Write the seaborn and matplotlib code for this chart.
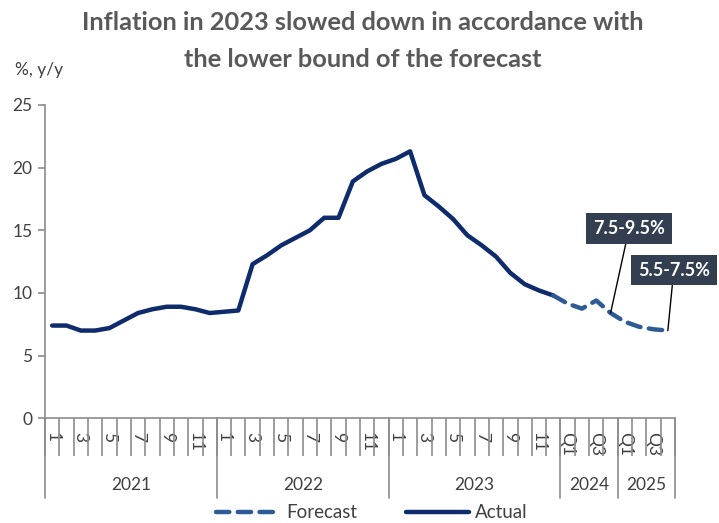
import pandas as pd
import seaborn as sns
import matplotlib.pyplot as plt
from matplotlib.lines import Line2D
from matplotlib.transforms import blended_transform_factory

# data
years = ["2021", "2022", "2023", "2024", "2025"]
periods_per_year = [
    [str(m) for m in range(1, 13)],
    [str(m) for m in range(1, 13)],
    [str(m) for m in range(1, 13)],
    ["Q1", "Q2", "Q3", "Q4"],
    ["Q1", "Q2", "Q3", "Q4"],
]
actual = [
    7.4, 7.4, 7.0, 7.0, 7.2, 7.8, 8.4, 8.7, 8.9, 8.9, 8.7, 8.4,
    8.5, 8.6, 12.3, 13.0, 13.8, 14.4, 15.0, 16.0, 16.0, 18.9, 19.7, 20.3,
    20.7, 21.3, 17.8, 16.9, 15.9, 14.6, 13.8, 12.9, 11.6, 10.7, 10.2, 9.8,
]
# forecast starts at the last actual point (Dec 2023)
forecast = [9.8, 9.15, 8.75, 9.4, 8.4, 7.7, 7.3, 7.1, 7.0]
ranges = ["7.5-9.5%", "5.5-7.5%"]
range_idx = [39, 43]  # Q4 2024, Q4 2025

labels = [p for grp in periods_per_year for p in grp]
n = len(labels)
start_fc = len(actual) - 1

df = pd.concat([
    pd.DataFrame({"pos": range(len(actual)), "value": actual, "series": "Actual"}),
    pd.DataFrame({"pos": range(start_fc, start_fc + len(forecast)), "value": forecast,
                  "series": "Forecast"}),
])

sns.set_style("white")
plt.rcParams["font.family"] = ["Lato", "DejaVu Sans"]
gray = "#595959"
axis_gray = "#8c8c8c"
navy = "#0e2b6b"
blue = "#2e5a96"

fig = plt.figure(figsize=(7.19, 5.23), dpi=100)
ax = fig.add_axes([0.0626, 0.2002, 0.8762, 0.5991])

sns.lineplot(data=df, x="pos", y="value", hue="series", style="series",
             palette={"Actual": navy, "Forecast": blue},
             dashes={"Actual": "", "Forecast": (3.0, 1.9)},
             linewidth=3.2, legend=False, ax=ax, sort=False)
for ln in ax.get_lines():
    ln.set_dash_capstyle("round")
    ln.set_solid_capstyle("round")
    ln.set_solid_joinstyle("round")

ax.set_xlim(-0.5, n - 0.5)
ax.set_ylim(0, 25)
ax.set_yticks(range(0, 26, 5))
ax.set_xlabel("")
ax.set_ylabel("")
for s in ["top", "right"]:
    ax.spines[s].set_visible(False)
for s in ["left", "bottom"]:
    ax.spines[s].set_color(axis_gray)
    ax.spines[s].set_linewidth(1.2)

ax.tick_params(axis="y", length=5, width=1.2, color=axis_gray, labelsize=12.5,
               labelcolor="#404040", pad=4, left=True)

# month / quarter labels (every other one)
ax.set_xticks(range(n))
ax.set_xticklabels([l if i % 2 == 0 else "" for i, l in enumerate(labels)],
                   rotation=-90, fontsize=12.5, color="#404040")
ax.tick_params(axis="x", which="major", length=0, pad=10)
ax.set_xticks([i - 0.5 for i in range(n + 1)], minor=True)
ax.tick_params(axis="x", which="minor", length=27.5, width=1.2, color=axis_gray,
               direction="out", bottom=True)

# year separators and year labels
trans = blended_transform_factory(ax.transData, ax.transAxes)
edge = -0.5
bounds = [edge]
for grp in periods_per_year:
    edge += len(grp)
    bounds.append(edge)
for b in bounds:
    ax.plot([b, b], [0, -0.255], transform=trans, color=axis_gray, lw=1.2,
            clip_on=False)
for yr, a, b in zip(years, bounds[:-1], bounds[1:]):
    ax.text((a + b) / 2, -0.213, yr, transform=trans, ha="center", va="center",
            fontsize=12.5, color="#404040")

# forecast range call-outs
offsets = [(13.4, 61), (4.3, 43.6)]
for txt, idx, off in zip(ranges, range_idx, offsets):
    ax.annotate(txt, xy=(idx, forecast[idx - start_fc]), xytext=off,
                textcoords="offset points", ha="center", va="center",
                fontsize=13, fontweight="bold", color="white",
                bbox=dict(boxstyle="square,pad=0.38", fc="#333f50", ec="none"),
                arrowprops=dict(arrowstyle="-", color="black", lw=1,
                                shrinkA=0, shrinkB=0))

fig.text(0.505, 1 - 41 / 523, "Inflation in 2023 slowed down in accordance with\nthe lower bound of the forecast",
         ha="center", va="center", fontsize=18.3, fontweight="bold", color=gray,
         linespacing=1.7)
fig.text(15 / 719, 1 - 70 / 523, "%, y/y", ha="left", va="center", fontsize=12.5,
         color="#404040")

handles = [
    Line2D([], [], color=blue, lw=3.2, dashes=(3.0, 1.9), dash_capstyle="round"),
    Line2D([], [], color=navy, lw=3.2, solid_capstyle="round"),
]
fig.legend(handles, ["Forecast", "Actual"], loc="center",
           bbox_to_anchor=(372 / 719, 1 - 513 / 523), ncol=2, frameon=False,
           fontsize=13.5, handlelength=3.4, handletextpad=0.3, columnspacing=2.6,
           labelcolor="#404040")

fig.savefig("out.png", dpi=100)
